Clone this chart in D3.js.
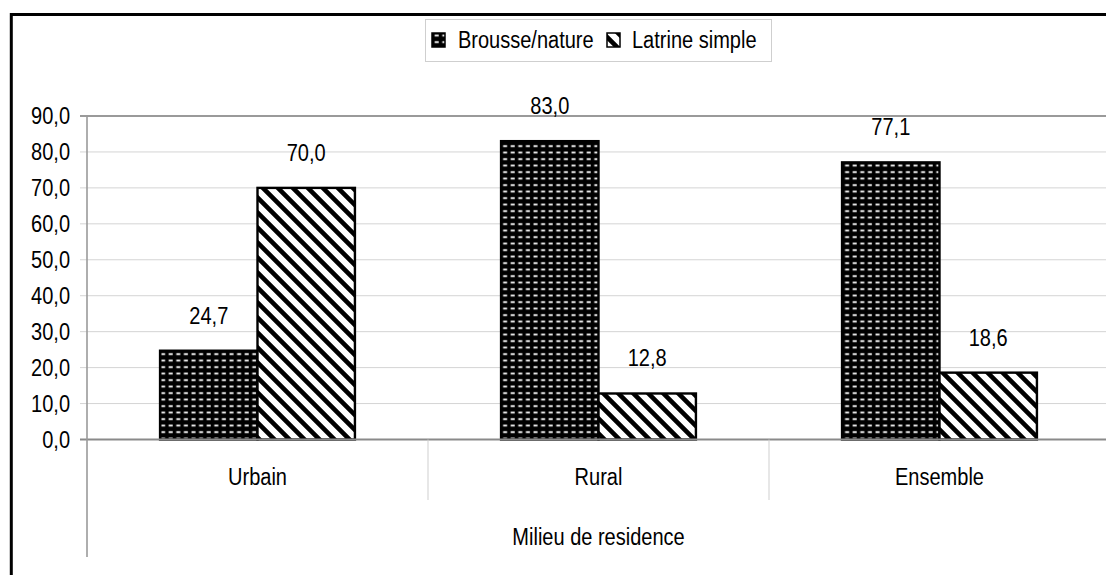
<!DOCTYPE html>
<html><head><meta charset="utf-8">
<script src="https://cdn.jsdelivr.net/npm/d3@7"></script>
<style>html,body{margin:0;padding:0;background:#fff;}svg{display:block;}</style>
</head><body>
<script>
const categories = ["Urbain", "Rural", "Ensemble"];
const seriesNames = ["Brousse/nature", "Latrine simple"];
const brousse = [24.7, 83.0, 77.1];
const latrine = [70.0, 12.8, 18.6];
const yTicks = [0, 10, 20, 30, 40, 50, 60, 70, 80, 90];
const axisTitle = "Milieu de residence";

const W = 1106, H = 575;
const FONT = "'Liberation Sans', Arial, sans-serif";
const svg = d3.select("body").append("svg").attr("width", W).attr("height", H);
const defs = svg.append("defs");

// dotted pattern
const pd = defs.append("pattern").attr("id", "dots").attr("patternUnits", "userSpaceOnUse")
  .attr("width", 7.6).attr("height", 6.5);
pd.append("rect").attr("width", 7.6).attr("height", 6.5).attr("fill", "#000");
pd.append("rect").attr("x", 1.5).attr("y", 2.2).attr("width", 4).attr("height", 1.8).attr("fill", "#fff");

// hatch pattern
const ph = defs.append("pattern").attr("id", "hatch").attr("patternUnits", "userSpaceOnUse")
  .attr("width", 15).attr("height", 15);
ph.append("rect").attr("width", 15).attr("height", 15).attr("fill", "#fff");
ph.append("path").attr("d", "M-4,-4L19,19M-4,11L4,19M11,-4L19,4")
  .attr("stroke", "#000").attr("stroke-width", 4.6);

const fills = ["url(#dots)", "url(#hatch)"];

const plot = {left: 87, right: 1110, top: 116, bottom: 439.5};
const x0 = d3.scaleBand().domain(categories).range([plot.left, plot.right]).paddingInner(0).paddingOuter(0);
const x1 = d3.scaleBand().domain(seriesNames).range([0, x0.bandwidth()]).paddingInner(0).paddingOuter(0.75);
const y = d3.scaleLinear().domain([0, 90]).range([plot.bottom, plot.top]);

function txt(g, x, yy, s, anchor, size) {
  return g.append("text")
    .attr("transform", `translate(${x},${yy}) scale(0.87,1)`)
    .attr("text-anchor", anchor || "middle")
    .attr("font-family", FONT).attr("font-size", size || 23)
    .attr("fill", "#000").text(s);
}

// outer frame
svg.append("path").attr("d", `M11.3,${H}V14.6H${W}`).attr("fill", "none")
  .attr("stroke", "#000").attr("stroke-width", 3);

// gridlines
const grid = svg.append("g");
yTicks.forEach(t => {
  if (t === 0 || t === 90) return;
  grid.append("line").attr("x1", plot.left - 7).attr("x2", W)
    .attr("y1", y(t)).attr("y2", y(t)).attr("stroke", "#d4d4d4").attr("stroke-width", 1);
});
// top line at 90
svg.append("line").attr("x1", plot.left - 7).attr("x2", W).attr("y1", y(90)).attr("y2", y(90))
  .attr("stroke", "#9a9a9a").attr("stroke-width", 2.2);

// y tick labels
const ylab = svg.append("g");
yTicks.forEach(t => {
  txt(ylab, 70, y(t) + 8, d3.format(".1f")(t).replace(".", ","), "end");
});

// bars
const data = categories.map((c, i) => ({cat: c, vals: [brousse[i], latrine[i]]}));
const gb = svg.append("g");
data.forEach(d => {
  d.vals.forEach((v, j) => {
    const bx = x0(d.cat) + x1(seriesNames[j]);
    gb.append("rect").attr("x", bx).attr("y", y(v)).attr("width", x1.bandwidth())
      .attr("height", y(0) - y(v)).attr("fill", fills[j])
      .attr("stroke", "#000").attr("stroke-width", 2.4);
    txt(gb, bx + x1.bandwidth() / 2, y(v) - 27, d3.format(".1f")(v).replace(".", ","), "middle");
  });
});

// x axis line
svg.append("line").attr("x1", plot.left - 7).attr("x2", W).attr("y1", y(0)).attr("y2", y(0))
  .attr("stroke", "#8a8a8a").attr("stroke-width", 2.2);
// left axis
svg.append("line").attr("x1", plot.left).attr("x2", plot.left).attr("y1", y(90)).attr("y2", 557)
  .attr("stroke", "#9a9a9a").attr("stroke-width", 1.6);
// category separators
categories.slice(1).forEach(c => {
  svg.append("line").attr("x1", x0(c)).attr("x2", x0(c)).attr("y1", y(0)).attr("y2", 500)
    .attr("stroke", "#cfcfcf").attr("stroke-width", 1);
});
// category labels
categories.forEach(c => txt(svg, x0(c) + x0.bandwidth() / 2, 485, c, "middle"));
txt(svg, (plot.left + plot.right) / 2, 545, axisTitle, "middle");

// legend
const lg = svg.append("g");
lg.append("rect").attr("x", 425.5).attr("y", 19.5).attr("width", 346).attr("height", 42)
  .attr("fill", "#fff").attr("stroke", "#cfcfcf").attr("stroke-width", 1);
const legX = [432, 607];
const legT = [458, 632];
seriesNames.forEach((s, j) => {
  lg.append("rect").attr("x", legX[j]).attr("y", 33).attr("width", 13).attr("height", 14)
    .attr("fill", fills[j]).attr("stroke", "#000").attr("stroke-width", 1.5);
  txt(lg, legT[j], 48, s, "start");
});
</script>
</body></html>
